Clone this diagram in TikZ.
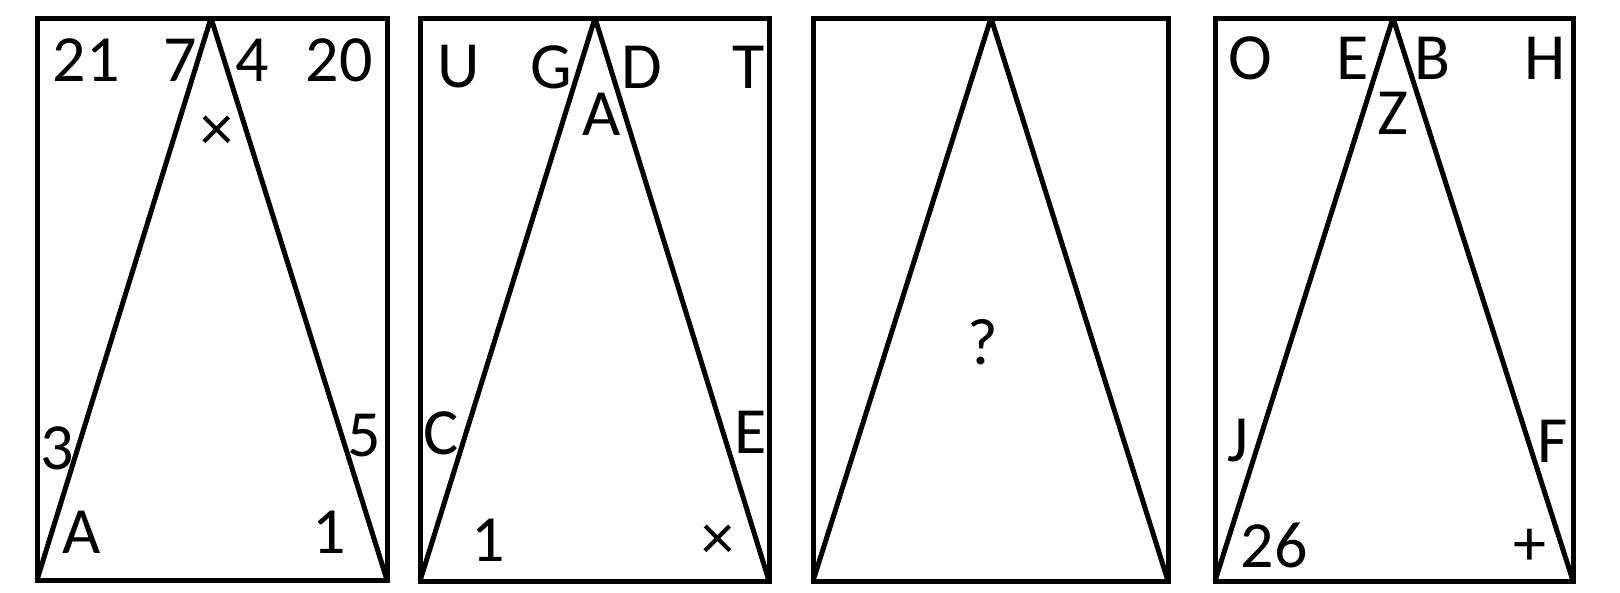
\documentclass[tikz,border=0pt]{standalone}
\usepackage{fontspec}
\setmainfont{Carlito}
\newcommand{\lblfont}{\fontsize{66}{70}\selectfont}
\tikzset{
  frame/.style={line width=5pt},
  tri/.style={frame, line join=bevel},
  lbl/.style={font=\lblfont, inner sep=0pt, anchor=center}
}
\begin{document}
\begin{tikzpicture}[x=1pt,y=-1pt]
\useasboundingbox (0,0) rectangle (1620,592);
% (1)
\begin{scope}
\draw[frame] (37,18) rectangle (387,580);
\draw[tri] (37,580) -- (211,18) -- (387,580);
\node[lbl] (a21) at (86,60) {21};
\node[lbl] (a7) at (180,60) {7};
\node[lbl] (a4) at (252,60) {4};
\node[lbl] (a20) at (339,60) {20};
\node[lbl] (ax) at (217,133) {×};
\node[lbl] (a3) at (57,448) {3};
\node[lbl] (a5) at (364,436) {5};
\node[lbl] (aA) at (82,532) {A};
\node[lbl] (a1) at (329,532) {1};
\end{scope}
% (2)
\begin{scope}
\draw[frame] (420,18) rectangle (769,581);
\draw[tri] (420,581) -- (595,18) -- (769,581);
\node[lbl] (bU) at (459,67) {U};
\node[lbl] (bG) at (551,67) {G};
\node[lbl] (bD) at (642,67) {D};
\node[lbl] (bT) at (749,67) {T};
\node[lbl] (bA) at (602,114) {A};
\node[lbl] (bC) at (441,433) {C};
\node[lbl] (bE) at (751,432) {E};
\node[lbl] (b1) at (488,540) {1};
\node[lbl] (bx) at (718,542) {×};
\end{scope}
% (3)
\begin{scope}
\draw[frame] (813,18) rectangle (1168,581);
\draw[tri] (813,581) -- (991,18) -- (1168,581);
\node[lbl] (cq) at (983,342) {?};
\end{scope}
% (4)
\begin{scope}
\draw[frame] (1215,18) rectangle (1573,581);
\draw[tri] (1215,581) -- (1393,18) -- (1573,581);
\node[lbl] (dO) at (1250,58) {O};
\node[lbl] (dE) at (1353,58) {E};
\node[lbl] (dB) at (1432,58) {B};
\node[lbl] (dH) at (1545,58) {H};
\node[lbl] (dZ) at (1393,113) {Z};
\node[lbl] (dJ) at (1238,441) {J};
\node[lbl] (dF) at (1553,441) {F};
\node[lbl] (d26) at (1274,545) {26};
\node[lbl] (dplus) at (1530,547) {+};
\end{scope}
\end{tikzpicture}
\end{document}
